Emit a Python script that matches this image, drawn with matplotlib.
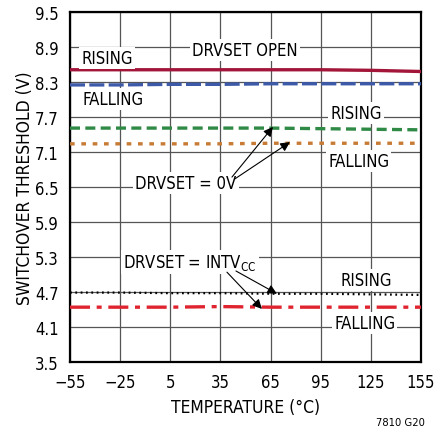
import matplotlib.pyplot as plt

# data
temp = [-55, -25, 5, 35, 65, 95, 125, 155]
open_rising = [8.51, 8.51, 8.51, 8.51, 8.51, 8.51, 8.50, 8.48]
open_falling = [8.25, 8.25, 8.26, 8.26, 8.27, 8.27, 8.27, 8.27]
zero_rising = [7.51, 7.51, 7.51, 7.51, 7.51, 7.50, 7.49, 7.48]
zero_falling = [7.24, 7.24, 7.24, 7.24, 7.25, 7.25, 7.25, 7.25]
intv_rising = [4.69, 4.69, 4.68, 4.68, 4.67, 4.67, 4.66, 4.65]
intv_falling = [4.44, 4.44, 4.44, 4.45, 4.44, 4.44, 4.44, 4.44]

xticks = [-55, -25, 5, 35, 65, 95, 125, 155]
xticklabels = ["\u221255", "\u221225", "5", "35", "65", "95", "125", "155"]
yticks = [3.5, 4.1, 4.7, 5.3, 5.9, 6.5, 7.1, 7.7, 8.3, 8.9, 9.5]

plt.rcParams["font.family"] = ["DejaVu Sans"]
plt.rcParams["font.stretch"] = "condensed"

fig = plt.figure(figsize=(4.36, 4.35), dpi=100)
ax = fig.add_axes([70 / 436, 1 - 363 / 435, 351 / 436, 350 / 435])

ax.plot(temp, open_rising, color="#a3163a", lw=2.4, zorder=3)
ax.plot(temp, open_falling, color="#3d5aa8", lw=2.4, dashes=(4.5, 1.3), zorder=3)
ax.plot(temp, zero_rising, color="#2f8a46", lw=2.4, dashes=(3, 1.6), zorder=3)
ax.plot(temp, zero_falling, color="#c77b34", lw=2.4, dashes=(1.4, 2.0), zorder=3)
ax.plot(temp, intv_rising, color="black", lw=1.6, dashes=(0.8, 1.6), zorder=3)
ax.plot(temp, intv_falling, color="#e0242f", lw=2.4, dashes=(6, 2, 1.5, 2), zorder=3)

ax.set_xlim(-55, 155)
ax.set_ylim(3.5, 9.5)
ax.set_xticks(xticks)
ax.set_xticklabels(xticklabels)
ax.set_yticks(yticks)
ax.tick_params(length=0, labelsize=12)
ax.tick_params(axis="x", pad=8)
ax.tick_params(axis="y", pad=8)
ax.grid(True, color="#555555", lw=0.9)
for s in ax.spines.values():
    s.set_linewidth(1.6)

ax.set_xlabel("TEMPERATURE (\u00b0C)", fontsize=12.5, labelpad=5)
ax.set_ylabel("SWITCHOVER THRESHOLD (V)", fontsize=12.5, labelpad=1)

box = dict(facecolor="white", edgecolor="none", pad=1.5)
labels = [
    ("RISING", -32.9, 8.71),
    ("DRVSET OPEN", 49.7, 8.85),
    ("FALLING", -29.3, 8.01),
    ("RISING", 116, 7.77),
    ("FALLING", 117.8, 6.95),
    ("DRVSET = 0V", 14.4, 6.57),
    ("DRVSET = INTV$_{\\mathregular{CC}}$", 16.8, 5.22),
    ("RISING", 122, 4.91),
    ("FALLING", 121.4, 4.17),
]
for txt, x, y in labels:
    ax.text(x, y, txt, ha="center", va="center", fontsize=12, bbox=box, zorder=4)

arrows = [
    ((41.9, 6.67), (66.4, 7.53)),
    ((43.7, 6.64), (76.6, 7.27)),
    ((44.3, 5.06), (68.8, 4.67)),
    ((38.9, 5.04), (59.8, 4.41)),
]
for start, end in arrows:
    ax.annotate("", xy=end, xytext=start, zorder=5,
                arrowprops=dict(arrowstyle="-|>", color="black", lw=0.8,
                                mutation_scale=14, shrinkA=0, shrinkB=0))

fig.text(400 / 436, 1 - 423 / 435, "7810 G20", fontsize=8, ha="center", va="center")

fig.savefig("out.png", dpi=100)
